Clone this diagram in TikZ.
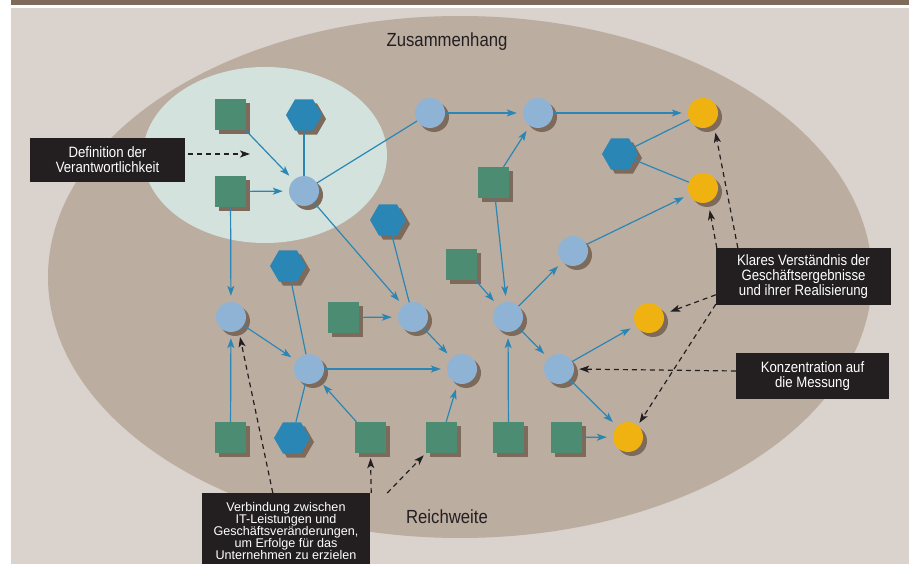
\documentclass[tikz,border=0pt]{standalone}
\usepackage{fontspec}
\newfontfamily\labelfont[FakeStretch=0.88]{Liberation Sans}
\newfontfamily\plainfont{Liberation Sans}
\usepackage{tikz}
\usetikzlibrary{shapes.geometric, arrows.meta, shadows, calc}

\definecolor{pagebg}{HTML}{DAD2CC}
\definecolor{scopebg}{HTML}{BCADA1}
\definecolor{respbg}{HTML}{D3E2DC}
\definecolor{topbar}{HTML}{7F6B5A}
\definecolor{shadowbrown}{HTML}{7D6A5A}
\definecolor{itgreen}{HTML}{4B8C72}
\definecolor{hexblue}{HTML}{2A87B5}
\definecolor{stepblue}{HTML}{8FB3D5}
\definecolor{goalyellow}{HTML}{EFB211}
\definecolor{boxblack}{HTML}{231F20}
\newcommand\tightlines{\lineskiplimit=-6pt\relax}

\begin{document}
\begin{tikzpicture}[x=1pt, y=-1pt, >={Stealth[length=10pt, width=7pt, inset=2.5pt]},
  shadowed/.style={drop shadow={shadow xshift=4pt, shadow yshift=-4pt, fill=shadowbrown, opacity=1}},
  itbox/.style={shadowed, rectangle, fill=itgreen, minimum size=31pt, inner sep=0pt},
  hexnode/.style={shadowed, regular polygon, regular polygon sides=6, fill=hexblue, minimum size=36pt, inner sep=0pt},
  stepnode/.style={shadowed, circle, fill=stepblue, minimum size=30pt, inner sep=0pt},
  goalnode/.style={shadowed, circle, fill=goalyellow, minimum size=30pt, inner sep=0pt},
  link/.style={draw=hexblue, line width=1.2pt},
  flow/.style={link, ->, shorten >=6pt},
  note/.style={fill=boxblack, text=white, font=\labelfont\fontsize{15}{15}\selectfont\tightlines, align=center, inner sep=0pt},
  pointer/.style={draw=boxblack, line width=1.2pt, dash pattern=on 5pt off 4pt, ->},
  areatext/.style={text=boxblack, font=\labelfont\fontsize{19}{19}\selectfont}]
  % page and frame
  \useasboundingbox (0,0) rectangle (914,564);
  \fill[white] (0,0) rectangle (914,564);
  \fill[pagebg] (11,8) rectangle (909,564);
  \fill[topbar] (11,0) rectangle (909,5);
  % scope and responsibility areas
  \fill[scopebg] (460,277) ellipse [x radius=412, y radius=261];
  \fill[respbg] (265,155) ellipse [x radius=122, y radius=88];
  \node[areatext] (toplabel) at (447,42) {Zusammenhang};
  \node[areatext] (bottomlabel) at (447,517) {Reichweite};
  % ---------------- IT services (squares) ----------------
  \node[itbox] (sqA) at (230.5,114.5) {};
  \node[itbox] (sqB) at (230.5,191.5) {};
  \node[itbox] (sqC) at (343.5,317.5) {};
  \node[itbox] (sqD) at (461.5,264.5) {};
  \node[itbox] (sqE) at (493.5,182.5) {};
  \node[itbox] (sqF) at (230.5,437.5) {};
  \node[itbox] (sqG) at (370.5,437.5) {};
  \node[itbox] (sqH) at (441.5,437.5) {};
  \node[itbox] (sqI) at (508.5,437.5) {};
  \node[itbox] (sqJ) at (566.5,437.5) {};
  % ---------------- hexagons ----------------
  \node[hexnode] (hxA) at (304,115) {};
  \node[hexnode] (hxB) at (388,220) {};
  \node[hexnode] (hxC) at (288,266) {};
  \node[hexnode] (hxD) at (292,438) {};
  \node[hexnode] (hxE) at (620,154) {};
  % ---------------- changes (blue circles) ----------------
  \node[stepnode] (cA) at (304,191) {};
  \node[stepnode] (cB) at (430,113) {};
  \node[stepnode] (cC) at (538,113) {};
  \node[stepnode] (cD) at (231,317) {};
  \node[stepnode] (cE) at (413,317) {};
  \node[stepnode] (cF) at (309,369) {};
  \node[stepnode] (cG) at (462,369) {};
  \node[stepnode] (cH) at (508,317) {};
  \node[stepnode] (cI) at (573,251) {};
  \node[stepnode] (cJ) at (559,369) {};
  % ---------------- results (yellow circles) ----------------
  \node[goalnode] (yA) at (703,113) {};
  \node[goalnode] (yB) at (703,188) {};
  \node[goalnode] (yC) at (649,318) {};
  \node[goalnode] (yD) at (628,437) {};
  % ---------------- connections ----------------
  \draw[flow] (sqA) -- (cA);
  \draw[flow] (sqB) -- (cA);
  \draw[link] (hxA) -- (cA);
  \draw[link] (cA) -- (cB);
  \draw[flow] (cA) -- (cE);
  \draw[flow] (sqB) -- (cD);
  \draw[flow] (cB) -- (cC);
  \draw[flow] (cC) -- (yA);
  \draw[flow] (sqE) -- (cC);
  \draw[flow] (sqE) -- (cH);
  \draw[link] (hxE) -- (yA);
  \draw[link] (hxE) -- (yB);
  \draw[flow] (cI) -- (yB);
  \draw[flow] (cH) -- (cI);
  \draw[flow] (sqD) -- (cH);
  \draw[flow] (cH) -- (cJ);
  \draw[flow] (cJ) -- (yC);
  \draw[flow] (cJ) -- (yD);
  \draw[flow] (sqJ) -- (yD);
  \draw[flow] (sqI) -- (cH);
  \draw[link] (hxB) -- (cE);
  \draw[flow] (sqC) -- (cE);
  \draw[flow] (cE) -- (cG);
  \draw[flow] (cD) -- (cF);
  \draw[flow] (sqF) -- (cD);
  \draw[link] (hxC) -- (cF);
  \draw[link] (hxD) -- (cF);
  \draw[flow] (sqG) -- (cF);
  \draw[flow] (sqH) -- (cG);
  \draw[flow] (cF) -- (cG);
  % ---------------- notes ----------------
  \node[note, minimum width=155pt, minimum height=44pt] (defbox) at (107.5,160) {Definition der\\Verantwortlichkeit};
  \node[note, minimum width=175pt, minimum height=57pt] (klarbox) at (803.5,276.5) {Klares Verständnis der\\Geschäftsergebnisse\\und ihrer Realisierung};
  \node[note, minimum width=153pt, minimum height=46pt] (konzbox) at (812.5,376) {Konzentration auf\\die Messung};
  \node[note, font=\plainfont\fontsize{12.6}{11.9}\selectfont\tightlines, minimum width=168pt, inner ysep=9.5pt, anchor=north] (linkbox) at (286,493)
    {Verbindung zwischen\\IT-Leistungen und\\Geschäftsveränderungen,\\um Erfolge für das\\Unternehmen zu erzielen};
  % dashed pointers
  \coordinate (defTip) at (250,154);
  \draw[pointer] ($(defbox.east |- defTip)+(3,0)$) -- (defTip);
  \draw[pointer, shorten >=9pt] ($(klarbox.north west)+(22,0)$) -- (yA.-45);
  \draw[pointer, shorten >=8pt] ($(klarbox.north west)+(1,0)$) -- (yB.-70);
  \draw[pointer, shorten >=7pt] ($(klarbox.north west)+(0,47)$) -- (yC.15);
  \draw[pointer, shorten >=3pt] ($(klarbox.south west)+(0,-1)$) -- (yD.50);
  \draw[pointer, shorten >=5pt] ($(konzbox.west)+(0,-5)$) -- (cJ.east);
  \draw[pointer, shorten >=7pt] ($(linkbox.north west)+(71,0)$) -- (cD.-60);
  \draw[pointer, shorten >=5pt] ($(linkbox.north east)+(1,0)$) -- (sqG.south);
  \draw[pointer, shorten >=3pt] ($(linkbox.north east)+(17,0)$) -- (sqH.south west);
\end{tikzpicture}
\end{document}
